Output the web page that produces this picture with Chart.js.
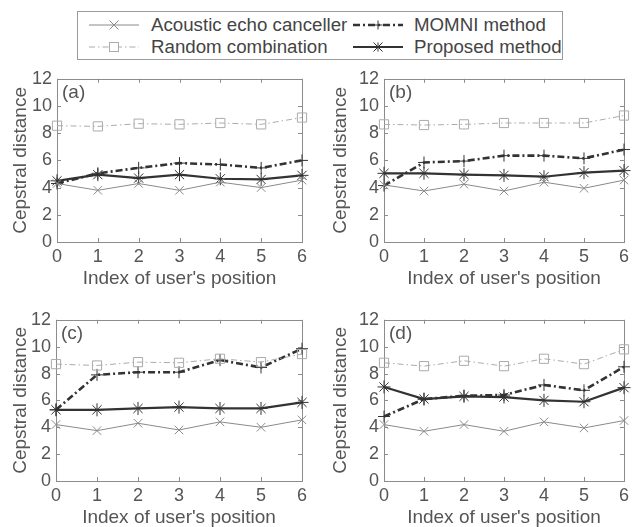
<!DOCTYPE html>
<html>
<head>
<meta charset="utf-8">
<script src="https://cdn.jsdelivr.net/npm/chart.js"></script>
<style>
  body { margin: 0; background: #fff; }
  #wrap { position: relative; width: 633px; height: 527px; overflow: hidden; font-family: "Liberation Sans", Arial, sans-serif; }
  canvas { position: absolute; }
  #legend { position: absolute; left: 77px; top: 11px; width: 484px; height: 47px; border: 1px solid #9a9a9a; }
  .lab { position: absolute; font-size: 18.7px; color: #444; line-height: 22px; white-space: nowrap; }
  .smp { position: absolute; }
</style>
</head>
<body>
<div id="wrap">
  <div id="legend"></div>
  <canvas id="cA" width="312" height="229" style="left:0px;top:63px"></canvas>
  <canvas id="cB" width="313" height="229" style="left:320px;top:63px"></canvas>
  <canvas id="cC" width="312" height="227" style="left:0px;top:304px"></canvas>
  <canvas id="cD" width="313" height="227" style="left:320px;top:304px"></canvas>
</div>
<script>
// user positions
var positions = ['0', '1', '2', '3', '4', '5', '6'];
var seriesNames = ['Acoustic echo canceller', 'Random combination', 'MOMNI method', 'Proposed method'];

// panel (a)
var aecA = [4.3, 3.8, 4.3, 3.8, 4.4, 4.0, 4.55];
var randA = [8.55, 8.5, 8.7, 8.65, 8.75, 8.65, 9.15];
var momniA = [4.3, 5.05, 5.45, 5.8, 5.7, 5.45, 6.0];
var propA = [4.5, 4.95, 4.7, 4.95, 4.65, 4.6, 4.9];
// panel (b)
var aecB = [4.2, 3.75, 4.25, 3.75, 4.4, 3.95, 4.55];
var randB = [8.65, 8.6, 8.65, 8.75, 8.75, 8.75, 9.3];
var momniB = [4.15, 5.85, 5.95, 6.35, 6.35, 6.15, 6.8];
var propB = [5.05, 5.05, 4.95, 4.9, 4.8, 5.1, 5.25];
// panel (c)
var aecC = [4.2, 3.75, 4.3, 3.8, 4.4, 4.0, 4.55];
var randC = [8.7, 8.6, 8.85, 8.8, 9.1, 8.85, 9.45];
var momniC = [5.3, 7.9, 8.1, 8.1, 9.0, 8.45, 9.85];
var propC = [5.3, 5.3, 5.4, 5.5, 5.4, 5.4, 5.85];
// panel (d)
var aecD = [4.2, 3.7, 4.2, 3.7, 4.4, 3.95, 4.5];
var randD = [8.8, 8.55, 8.95, 8.55, 9.1, 8.7, 9.8];
var momniD = [4.8, 6.1, 6.35, 6.4, 7.15, 6.75, 8.5];
var propD = [7.0, 6.1, 6.3, 6.25, 6.0, 5.9, 6.95];

var yTicks = [0, 2, 4, 6, 8, 10, 12];

var textColor = '#555';
var axisColor = '#8c8c8c';
var fontFam = '"Liberation Sans", Arial, sans-serif';

var styles = [
  { color: '#8a8a8a', width: 1, dash: [], point: 'crossRot', r: 6 },
  { color: '#ababab', width: 1, dash: [6, 3, 1.5, 3], point: 'rect', r: 6.5 },
  { color: '#333', width: 2.6, dash: [7, 3, 2, 3], point: 'cross', r: 6 },
  { color: '#333', width: 2.2, dash: [], point: 'star', r: 6.5 }
];

// box + inner ticks + panel letter
var framePlugin = {
  id: 'frame',
  beforeDatasetsDraw: function(chart, args, opts) {
    var ctx = chart.ctx, a = chart.chartArea;
    var xs = chart.scales.x, ys = chart.scales.y;
    ctx.save();
    ctx.strokeStyle = axisColor;
    ctx.lineWidth = 1;
    ctx.strokeRect(Math.round(a.left) + 0.5, Math.round(a.top) + 0.5, Math.round(a.right - a.left), Math.round(a.bottom - a.top));
    ctx.beginPath();
    for (var i = 0; i < xs.ticks.length; i++) {
      var px = Math.round(xs.getPixelForTick(i)) + 0.5;
      ctx.moveTo(px, a.bottom); ctx.lineTo(px, a.bottom - 4);
      ctx.moveTo(px, a.top); ctx.lineTo(px, a.top + 4);
    }
    for (var j = 0; j < yTicks.length; j++) {
      var py = Math.round(ys.getPixelForValue(yTicks[j])) + 0.5;
      ctx.moveTo(a.left, py); ctx.lineTo(a.left + 4, py);
      ctx.moveTo(a.right, py); ctx.lineTo(a.right - 4, py);
    }
    ctx.stroke();
    ctx.fillStyle = textColor;
    ctx.font = '19px ' + fontFam;
    ctx.textBaseline = 'middle';
    ctx.fillText(opts.letter, a.left + 5, a.top + 14);
    ctx.restore();
  }
};

function makeChart(id, letter, rows, yWidth, rightPad) {
  var ds = [];
  for (var k = 0; k < rows.length; k++) {
    var s = styles[k];
    ds.push({
      label: seriesNames[k],
      data: rows[k],
      borderColor: s.color,
      borderWidth: s.width,
      borderDash: s.dash,
      backgroundColor: 'rgba(0,0,0,0)',
      pointStyle: s.point,
      pointRadius: s.r,
      pointBorderColor: s.color,
      pointBorderWidth: 1,
      pointBackgroundColor: 'rgba(0,0,0,0)',
      tension: 0,
      fill: false
    });
  }
  return new Chart(document.getElementById(id).getContext('2d'), {
    type: 'line',
    data: { labels: positions, datasets: ds },
    plugins: [framePlugin],
    options: {
      responsive: false,
      animation: false,
      devicePixelRatio: 1,
      layout: { padding: { top: 14, right: rightPad, left: 0, bottom: 0 } },
      plugins: {
        legend: { display: false },
        tooltip: { enabled: false },
        frame: { letter: letter }
      },
      scales: {
        x: {
          type: 'category',
          offset: false,
          grid: { display: false, drawTicks: false },
          border: { display: false },
          ticks: { color: textColor, font: { family: fontFam, size: 18 }, padding: 4, maxRotation: 0, autoSkip: false },
          title: { display: true, text: "Index of user's position", color: textColor, font: { family: fontFam, size: 19 }, padding: { top: 0, bottom: 2 } },
          afterFit: function(s) { s.height = 50; }
        },
        y: {
          min: 0,
          max: 12,
          grid: { display: false, drawTicks: false },
          border: { display: false },
          ticks: { stepSize: 2, color: textColor, font: { family: fontFam, size: 18 }, padding: 5 },
          title: { display: true, text: 'Cepstral distance', color: textColor, font: { family: fontFam, size: 19 }, padding: { top: 9, bottom: 0 } },
          afterFit: function(s) { s.width = yWidth; }
        }
      }
    }
  });
}

makeChart('cA', '(a)', [aecA, randA, momniA, propA], 57, 10);
makeChart('cB', '(b)', [aecB, randB, momniB, propB], 64, 3);
makeChart('cC', '(c)', [aecC, randC, momniC, propC], 56, 10);
makeChart('cD', '(d)', [aecD, randD, momniD, propD], 64, 3);

// shared legend
var legend = document.getElementById('legend');
var legendPos = [
  { sx: 11, tx: 73, y: 13 },
  { sx: 11, tx: 73, y: 35 },
  { sx: 275, tx: 336, y: 13 },
  { sx: 275, tx: 336, y: 35 }
];
function markerSvg(st, cx, cy) {
  var r = 4.5, c = st.color;
  if (st.point === 'crossRot') return '<path d="M' + (cx - r) + ' ' + (cy - r) + 'L' + (cx + r) + ' ' + (cy + r) + 'M' + (cx - r) + ' ' + (cy + r) + 'L' + (cx + r) + ' ' + (cy - r) + '" stroke="' + c + '" stroke-width="1" fill="none"/>';
  if (st.point === 'rect') return '<rect x="' + (cx - r) + '" y="' + (cy - r) + '" width="' + (2 * r) + '" height="' + (2 * r) + '" stroke="' + c + '" stroke-width="1" fill="#fff"/>';
  if (st.point === 'cross') return '<path d="M' + cx + ' ' + (cy - r) + 'L' + cx + ' ' + (cy + r) + 'M' + (cx - r) + ' ' + cy + 'L' + (cx + r) + ' ' + cy + '" stroke="' + c + '" stroke-width="1" fill="none"/>';
  return '<path d="M' + cx + ' ' + (cy - r) + 'L' + cx + ' ' + (cy + r) + 'M' + (cx - r) + ' ' + cy + 'L' + (cx + r) + ' ' + cy +
    'M' + (cx - r) + ' ' + (cy - r) + 'L' + (cx + r) + ' ' + (cy + r) + 'M' + (cx - r) + ' ' + (cy + r) + 'L' + (cx + r) + ' ' + (cy - r) + '" stroke="' + c + '" stroke-width="1" fill="none"/>';
}
for (var n = 0; n < seriesNames.length; n++) {
  var st = styles[n], p = legendPos[n];
  var smp = document.createElement('div');
  smp.className = 'smp';
  smp.style.left = p.sx + 'px';
  smp.style.top = (p.y - 12) + 'px';
  smp.innerHTML = '<svg width="50" height="24"><line x1="0" y1="12" x2="50" y2="12" stroke="' + st.color + '" stroke-width="' + st.width +
    '" stroke-dasharray="' + (st.dash.length ? st.dash.join(' ') : 'none') + '"/>' + markerSvg(st, 25, 12) + '</svg>';
  legend.appendChild(smp);
  var lab = document.createElement('div');
  lab.className = 'lab';
  lab.style.left = p.tx + 'px';
  lab.style.top = (p.y - 11) + 'px';
  lab.textContent = seriesNames[n];
  legend.appendChild(lab);
}
</script>
</body>
</html>
